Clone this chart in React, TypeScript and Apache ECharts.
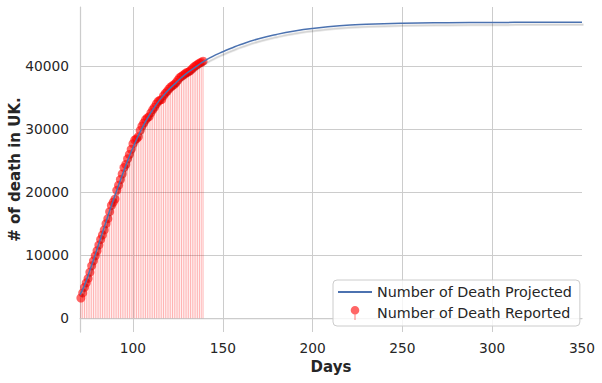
import { useEffect, useRef } from "react";
import * as echarts from "echarts";

const reportedDays = [
  71, 72, 73, 74, 75, 76, 77, 78, 79, 80, 81, 82, 83, 84, 85, 86, 87, 88, 89, 90,
  91, 92, 93, 94, 95, 96, 97, 98, 99, 100, 101, 102, 103, 104, 105, 106, 107, 108, 109, 110,
  111, 112, 113, 114, 115, 116, 117, 118, 119, 120, 121, 122, 123, 124, 125, 126, 127, 128, 129, 130,
  131, 132, 133, 134, 135, 136, 137, 138, 139,
];
const reportedDeaths = [
  3200, 4000, 4900, 5600, 6300, 7300, 8300, 9100, 9900, 10700, 11600, 12500, 13200, 14000, 15000, 15800, 16900, 17900, 18400, 18900,
  20300, 21100, 22000, 22900, 23900, 24400, 25300, 26000, 26800, 27700, 28300, 28500, 28800, 29800, 30500, 31000, 31500, 31800, 32000, 32600,
  33100, 33500, 34000, 34400, 34600, 34700, 35300, 35700, 36000, 36400, 36700, 36900, 37100, 37400, 37800, 38200, 38400, 38600, 38800, 39000,
  39100, 39300, 39600, 39900, 40100, 40300, 40500, 40600, 40800,
];

const projectedDays = [
  70.5, 73, 76, 79, 82, 85, 88, 91, 94, 97, 100, 103, 106, 109, 112, 115, 118, 121, 124, 127,
  130, 133, 136, 139, 142, 146, 150, 155, 160, 170, 180, 190, 200, 215, 230, 250, 275, 300, 325, 350,
];
const projectedDeaths = [
  3700, 5200, 7600, 10100, 12700, 15300, 17900, 20300, 22700, 25000, 27100, 29000, 30700, 32200, 33500, 34700, 35700, 36600, 37400, 38200,
  38900, 39500, 40100, 40700, 41200, 41800, 42300, 42900, 43450, 44350, 45050, 45600, 46000, 46420, 46650, 46820, 46910, 46950, 46965, 46970,
];

const xTickLabels = [100, 150, 200, 250, 300, 350];
const xGridValues = [100, 150, 200, 250, 300];
const yTickLabels = [0, 10000, 20000, 30000, 40000];

const FONT = "DejaVu Sans";
const TEXT = "#262626";
const GRID = "#cccccc";

export default function App() {
  const ref = useRef<HTMLDivElement>(null);
  useEffect(() => {
    const chart = echarts.init(ref.current!, null, { renderer: "svg" });
    const reported = reportedDays.map((d, i) => [d, reportedDeaths[i]]);
    const projected = projectedDays.map((d, i) => [d, projectedDeaths[i]]);
    chart.setOption({
      animation: false,
      backgroundColor: "#ffffff",
      grid: { left: 80, right: 20, top: 7, bottom: 51, containLabel: false, outerBoundsMode: "none" },
      xAxis: {
        type: "value",
        min: 70.5,
        max: 350,
        name: "Days",
        nameLocation: "middle",
        nameGap: 27,
        nameMoveOverlap: false,
        nameTextStyle: { fontFamily: FONT, fontSize: 15, fontWeight: "bold", color: TEXT },
        axisLine: { show: true, lineStyle: { color: GRID, width: 1.25 } },
        axisTick: { show: false, customValues: xGridValues },
        axisLabel: {
          customValues: xTickLabels,
          formatter: (v: number) => String(v),
          fontFamily: FONT,
          fontSize: 13.75,
          color: TEXT,
          margin: 9,
        },
        splitLine: { show: true, lineStyle: { color: GRID, width: 1 } },
      },
      yAxis: {
        type: "value",
        min: -2200,
        max: 49400,
        name: "# of death in UK.",
        nameLocation: "middle",
        nameGap: 58,
        nameMoveOverlap: false,
        nameTextStyle: { fontFamily: FONT, fontSize: 15, fontWeight: "bold", color: TEXT },
        axisLine: { show: true, lineStyle: { color: GRID, width: 1.25 } },
        axisTick: { show: false, customValues: yTickLabels },
        axisLabel: {
          customValues: yTickLabels,
          formatter: (v: number) => String(v),
          fontFamily: FONT,
          fontSize: 13.75,
          color: TEXT,
          margin: 11,
        },
        splitLine: { show: true, lineStyle: { color: GRID, width: 1 } },
      },
      legend: {
        orient: "vertical",
        left: 333,
        top: 280,
        padding: [4, 8, 5, 5],
        itemWidth: 34,
        itemHeight: 14,
        itemGap: 5,
        backgroundColor: "rgba(255,255,255,0.8)",
        borderColor: "#cccccc",
        borderWidth: 1,
        borderRadius: 4,
        textStyle: { fontFamily: FONT, fontSize: 14.3, color: TEXT, lineHeight: 16 },
        data: [
          { name: "Number of Death Projected", icon: "path://M0,0 H34 V2 H0 Z" },
          {
            name: "Number of Death Reported",
            icon: "path://M0,4 A4,4 0 1 1 8,4 A4,4 0 1 1 0,4 Z M3.6,7.5 H4.4 V13 H3.6 Z",
          },
        ],
      },
      series: [
        {
          name: "stems",
          type: "bar",
          data: reported,
          barWidth: 1,
          itemStyle: { color: "rgba(255,0,0,0.3)" },
          silent: true,
          z: 1,
        },
        {
          name: "Number of Death Projected",
          type: "line",
          data: projected,
          smooth: true,
          showSymbol: false,
          symbol: "none",
          color: "#4c72b0",
          lineStyle: {
            color: "#4c72b0",
            width: 1.5,
            shadowColor: "rgba(0,0,0,0.22)",
            shadowOffsetX: 1.5,
            shadowOffsetY: 2.5,
            shadowBlur: 0,
          },
          z: 3,
        },
        {
          name: "Number of Death Reported",
          type: "scatter",
          data: reported,
          symbolSize: 9,
          itemStyle: { color: "rgba(255,0,0,0.75)" },
          z: 2,
        },
      ],
    });
    return () => chart.dispose();
  }, []);
  return (
    <div
      ref={ref}
      style={{ position: "fixed", left: 0, top: 0, width: 602, height: 383 }}
    />
  );
}
